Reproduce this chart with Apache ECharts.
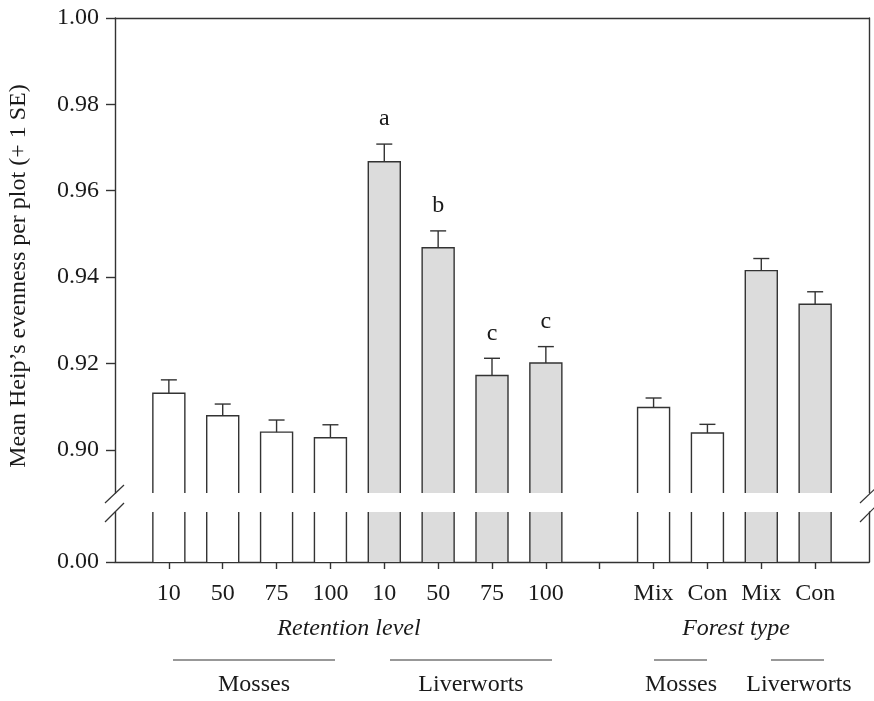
<!DOCTYPE html>
<html><head><meta charset="utf-8">
<script src="https://cdn.jsdelivr.net/npm/echarts@6/dist/echarts.min.js"></script>
<style>html,body{margin:0;padding:0;background:#fff}#c{width:874px;height:701px}</style>
</head><body><div id="c"></div>
<script>
// ---- data ----
const categories = ['', '10', '50', '75', '100', '10', '50', '75', '100', '', 'Mix', 'Con', 'Mix', 'Con', ''];
const barCategoryIndex = [1, 2, 3, 4, 5, 6, 7, 8, 10, 11, 12, 13];
const taxon = ['Mosses', 'Mosses', 'Mosses', 'Mosses', 'Liverworts', 'Liverworts', 'Liverworts', 'Liverworts',
               'Mosses', 'Mosses', 'Liverworts', 'Liverworts'];
const means = [0.9131, 0.9079, 0.9041, 0.9028, 0.9667, 0.9468, 0.9172, 0.9201, 0.9098, 0.9039, 0.9415, 0.9337];
const upperSE = [0.0031, 0.0027, 0.0028, 0.0030, 0.0041, 0.0039, 0.0040, 0.0038, 0.0022, 0.0020, 0.0028, 0.0029];
const letters = ['', '', '', '', 'a', 'b', 'c', 'c', '', '', '', ''];
const yTicksUpper = [0.90, 0.92, 0.94, 0.96, 0.98, 1.00];
const yTicksLower = [0.00];
const yTitle = 'Mean Heip\u2019s evenness per plot (+ 1 SE)';

// ---- style ----
const FONT = '"Liberation Serif", "DejaVu Serif", serif';
const TXT = '#1a1a1a';
const LINE = '#333333';
const LW = 1.4;
const BAR_W = 32;

const seriesData = barCategoryIndex.map((c, k) => [c, means[k], upperSE[k]]);

function makeRender(isUpper) {
  return function (params, api) {
    const k = params.dataIndex;
    const cs = params.coordSys;
    const i = api.value(0), m = api.value(1), se = api.value(2);
    const top = api.coord([i, m]);
    const err = api.coord([i, m + se]);
    const xc = top[0];
    const x0 = xc - BAR_W / 2, x1 = xc + BAR_W / 2;
    const yb = cs.y + cs.height;
    const clipped = top[1] < cs.y;
    const yt = clipped ? cs.y : top[1];
    const fill = taxon[k] === 'Liverworts' ? '#dcdcdc' : '#ffffff';
    const stroke = { stroke: LINE, lineWidth: LW, fill: null };
    const children = [
      { type: 'rect', shape: { x: x0, y: yt, width: BAR_W, height: yb - yt }, style: { fill: fill } }
    ];
    if (clipped) {
      children.push({ type: 'line', shape: { x1: x0, y1: yt, x2: x0, y2: yb }, style: stroke });
      children.push({ type: 'line', shape: { x1: x1, y1: yt, x2: x1, y2: yb }, style: stroke });
    } else {
      children.push({ type: 'polyline', shape: { points: [[x0, yb], [x0, yt], [x1, yt], [x1, yb]] }, style: stroke });
    }
    if (isUpper) {
      children.push({ type: 'line', shape: { x1: xc, y1: top[1], x2: xc, y2: err[1] }, style: stroke });
      children.push({ type: 'line', shape: { x1: xc - 8, y1: err[1], x2: xc + 8, y2: err[1] }, style: stroke });
      if (letters[k]) {
        children.push({ type: 'text', x: xc, y: err[1] - 25,
          style: { text: letters[k], fill: TXT, font: '24px ' + FONT, align: 'center', verticalAlign: 'middle' } });
      }
    }
    return { type: 'group', children: children };
  };
}

const chart = echarts.init(document.getElementById('c'), null, { renderer: 'canvas' });

const axisLineStyle = { lineStyle: { color: LINE, width: LW } };
const labelStyle = { color: TXT, fontFamily: FONT, fontSize: 24 };

const option = {
  animation: false,
  backgroundColor: '#ffffff',
  grid: [
    { left: 115, right: 5, top: 18, height: 475 },
    { left: 115, right: 5, top: 512, height: 50 }
  ],
  xAxis: [
    { type: 'category', gridIndex: 0, position: 'top', data: categories, boundaryGap: false,
      axisLine: axisLineStyle, axisTick: { show: false }, axisLabel: { show: false }, splitLine: { show: false } },
    { type: 'category', gridIndex: 1, position: 'bottom', data: categories, boundaryGap: false,
      axisLine: axisLineStyle,
      axisTick: { show: true, length: 7, interval: function (idx) { return idx > 0 && idx < categories.length - 1; },
                  lineStyle: { color: LINE, width: LW } },
      axisLabel: Object.assign({ interval: 0, margin: 20, hideOverlap: false }, labelStyle),
      splitLine: { show: false } }
  ],
  yAxis: [
    { type: 'value', gridIndex: 0, position: 'left', min: 0.89, max: 1.0,
      axisLine: { show: true, lineStyle: { color: LINE, width: LW } },
      axisTick: { show: true, length: 9, customValues: yTicksUpper, lineStyle: { color: LINE, width: LW } },
      axisLabel: Object.assign({ customValues: yTicksUpper, margin: 16, formatter: v => Number(v).toFixed(2),
                                 showMinLabel: true, showMaxLabel: true }, labelStyle),
      splitLine: { show: false } },
    { type: 'value', gridIndex: 0, position: 'right', min: 0.89, max: 1.0,
      axisLine: { show: true, lineStyle: { color: LINE, width: LW } },
      axisTick: { show: false }, axisLabel: { show: false }, splitLine: { show: false } },
    { type: 'value', gridIndex: 1, position: 'left', min: 0, max: 0.5,
      axisLine: { show: true, lineStyle: { color: LINE, width: LW } },
      axisTick: { show: true, length: 9, customValues: yTicksLower, lineStyle: { color: LINE, width: LW } },
      axisLabel: Object.assign({ customValues: yTicksLower, margin: 16, formatter: v => Number(v).toFixed(2),
                                 showMinLabel: true }, labelStyle),
      splitLine: { show: false } },
    { type: 'value', gridIndex: 1, position: 'right', min: 0, max: 0.5,
      axisLine: { show: true, lineStyle: { color: LINE, width: LW } },
      axisTick: { show: false }, axisLabel: { show: false }, splitLine: { show: false } }
  ],
  series: [
    { type: 'custom', xAxisIndex: 0, yAxisIndex: 0, data: seriesData, encode: { x: 0, y: 1 },
      renderItem: makeRender(true), z: 3 },
    { type: 'custom', xAxisIndex: 1, yAxisIndex: 2, data: seriesData, encode: { x: 0, y: 1 },
      renderItem: makeRender(false), z: 3 }
  ],
  graphic: [
    { type: 'text', x: 19, y: 276, rotation: Math.PI / 2,
      style: { text: yTitle, fill: TXT, font: '24px ' + FONT, align: 'center', verticalAlign: 'middle' } },
    { type: 'text', x: 349, y: 629,
      style: { text: 'Retention level', fill: TXT, font: 'italic 24px ' + FONT, align: 'center', verticalAlign: 'middle' } },
    { type: 'text', x: 736, y: 629,
      style: { text: 'Forest type', fill: TXT, font: 'italic 24px ' + FONT, align: 'center', verticalAlign: 'middle' } },
    { type: 'line', shape: { x1: 173, y1: 660, x2: 335, y2: 660 }, style: { stroke: LINE, lineWidth: 1.2 } },
    { type: 'line', shape: { x1: 390, y1: 660, x2: 552, y2: 660 }, style: { stroke: LINE, lineWidth: 1.2 } },
    { type: 'line', shape: { x1: 654, y1: 660, x2: 707, y2: 660 }, style: { stroke: LINE, lineWidth: 1.2 } },
    { type: 'line', shape: { x1: 771, y1: 660, x2: 824, y2: 660 }, style: { stroke: LINE, lineWidth: 1.2 } },
    { type: 'text', x: 254, y: 685,
      style: { text: 'Mosses', fill: TXT, font: '24px ' + FONT, align: 'center', verticalAlign: 'middle' } },
    { type: 'text', x: 471, y: 685,
      style: { text: 'Liverworts', fill: TXT, font: '24px ' + FONT, align: 'center', verticalAlign: 'middle' } },
    { type: 'text', x: 681, y: 685,
      style: { text: 'Mosses', fill: TXT, font: '24px ' + FONT, align: 'center', verticalAlign: 'middle' } },
    { type: 'text', x: 799, y: 685,
      style: { text: 'Liverworts', fill: TXT, font: '24px ' + FONT, align: 'center', verticalAlign: 'middle' } },
    // axis break marks
    { type: 'rect', shape: { x: 108, y: 494, width: 14, height: 17 }, style: { fill: '#ffffff' }, z: 10 },
    { type: 'rect', shape: { x: 862, y: 494, width: 12, height: 17 }, style: { fill: '#ffffff' }, z: 10 },
    { type: 'line', shape: { x1: 105, y1: 503, x2: 124, y2: 485 }, style: { stroke: LINE, lineWidth: 1.2 }, z: 11 },
    { type: 'line', shape: { x1: 105, y1: 522, x2: 124, y2: 503 }, style: { stroke: LINE, lineWidth: 1.2 }, z: 11 },
    { type: 'line', shape: { x1: 860, y1: 503, x2: 879, y2: 485 }, style: { stroke: LINE, lineWidth: 1.2 }, z: 11 },
    { type: 'line', shape: { x1: 860, y1: 522, x2: 879, y2: 503 }, style: { stroke: LINE, lineWidth: 1.2 }, z: 11 }
  ]
};
chart.setOption(option);
</script>
</body></html>
